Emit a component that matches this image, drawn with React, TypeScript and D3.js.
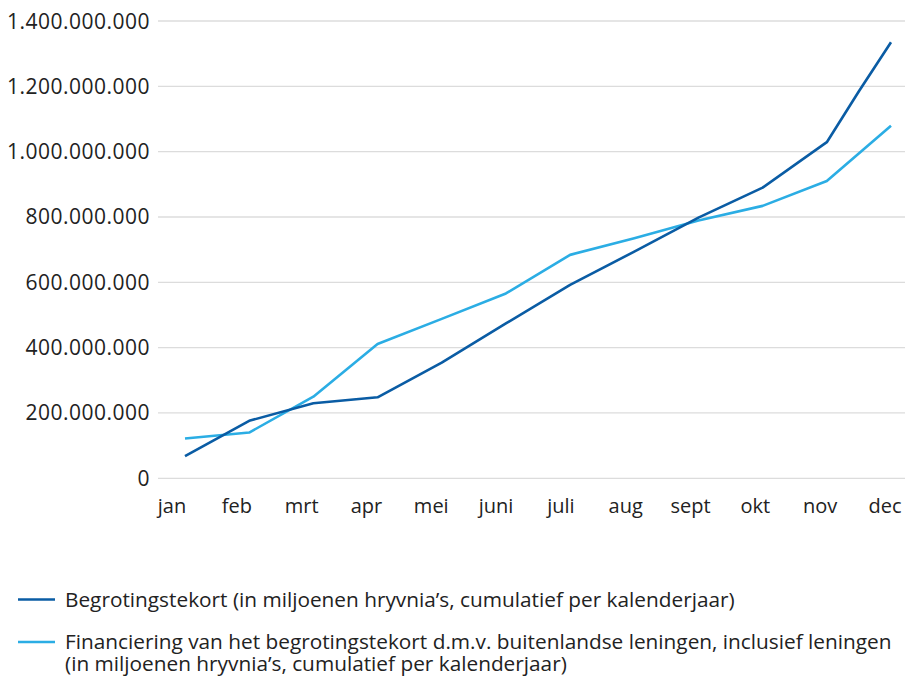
import { useEffect, useRef } from "react";
import * as d3 from "d3";

const W = 905;
const H = 676;

// month labels on the x axis
const MONTHS = ["jan", "feb", "mrt", "apr", "mei", "juni", "juli", "aug", "sept", "okt", "nov", "dec"];

// y axis ticks
const Y_TICKS = [0, 200e6, 400e6, 600e6, 800e6, 1000e6, 1200e6, 1400e6];

// Begrotingstekort: month index (one mid-month point in dec) and values
const DEFICIT_AT = [0, 1, 2, 3, 4, 5, 6, 7, 8, 9, 10, 10.5, 11];
const DEFICIT = [68e6, 176e6, 230e6, 248e6, 354e6, 474e6, 592e6, 694e6, 798e6, 890e6, 1029e6, 1185e6, 1335e6];

// Financiering via buitenlandse leningen
const FINANCING_AT = [0, 1, 2, 3, 4, 5, 6, 7, 8, 9, 10, 11];
const FINANCING = [122e6, 140e6, 250e6, 411e6, 488e6, 566e6, 684e6, 735e6, 789e6, 834e6, 910e6, 1079e6];

const DARK = "#0a5ca4";
const LIGHT = "#2badE4";
const TEXT = "#222222";
const FONT = "'Open Sans', sans-serif";

const fmt = (v: number) => d3.format(",")(v).replace(/,/g, ".");

export default function App() {
  const svgRef = useRef<SVGSVGElement | null>(null);

  useEffect(() => {
    const svg = d3.select(svgRef.current);
    svg.selectAll("*").remove();

    const y = d3.scaleLinear().domain([0, 1400e6]).range([478.3, 21]);
    const x = d3.scaleLinear().domain([0, 11]).range([185, 891]);
    const xLabel = d3.scalePoint<string>().domain(MONTHS).range([172, 885]);

    // gridlines + y labels
    const grid = svg.append("g");
    Y_TICKS.forEach((t) => {
      grid
        .append("line")
        .attr("x1", 158)
        .attr("x2", W)
        .attr("y1", y(t))
        .attr("y2", y(t))
        .attr("stroke", "#dcdcdc")
        .attr("stroke-width", 1.3);
      grid
        .append("text")
        .attr("x", 150)
        .attr("y", y(t) + 7.5)
        .attr("text-anchor", "end")
        .attr("fill", TEXT)
        .attr("font-size", 21)
        .attr("letter-spacing", 0.5)
        .attr("font-family", FONT)
        .text(fmt(t));
    });

    // x labels
    svg
      .append("g")
      .selectAll("text")
      .data(MONTHS)
      .join("text")
      .attr("x", (d) => xLabel(d) ?? 0)
      .attr("y", 513)
      .attr("text-anchor", "middle")
      .attr("fill", TEXT)
      .attr("font-size", 20)
      .attr("font-family", FONT)
      .text((d) => d);

    const line = d3
      .line<[number, number]>()
      .x((d) => x(d[0]))
      .y((d) => y(d[1]));

    const series = [
      { at: FINANCING_AT, vals: FINANCING, color: LIGHT },
      { at: DEFICIT_AT, vals: DEFICIT, color: DARK },
    ];
    series.forEach((s) => {
      const pts = s.at.map((m, i) => [m, s.vals[i]] as [number, number]);
      svg
        .append("path")
        .attr("d", line(pts) ?? "")
        .attr("fill", "none")
        .attr("stroke", s.color)
        .attr("stroke-width", 2.6)
        .attr("stroke-linejoin", "round");
    });

    // legend
    const legend = [
      { y: 599.5, color: DARK, lines: ["Begrotingstekort (in miljoenen hryvnia’s, cumulatief per kalenderjaar)"] },
      {
        y: 642,
        color: LIGHT,
        lines: [
          "Financiering van het begrotingstekort d.m.v. buitenlandse leningen, inclusief leningen",
          "(in miljoenen hryvnia’s, cumulatief per kalenderjaar)",
        ],
      },
    ];
    legend.forEach((l) => {
      svg
        .append("line")
        .attr("x1", 18)
        .attr("x2", 55)
        .attr("y1", l.y)
        .attr("y2", l.y)
        .attr("stroke", l.color)
        .attr("stroke-width", 2.6);
      l.lines.forEach((t, i) => {
        svg
          .append("text")
          .attr("x", 65)
          .attr("y", l.y + 7 + i * 22)
          .attr("fill", TEXT)
          .attr("font-size", 20.8)
          .attr("font-family", FONT)
          .text(t);
      });
    });
  }, []);

  return (
    <svg
      ref={svgRef}
      width={W}
      height={H}
      viewBox={`0 0 ${W} ${H}`}
      style={{ position: "absolute", left: 0, top: 0, background: "#fff" }}
    />
  );
}
